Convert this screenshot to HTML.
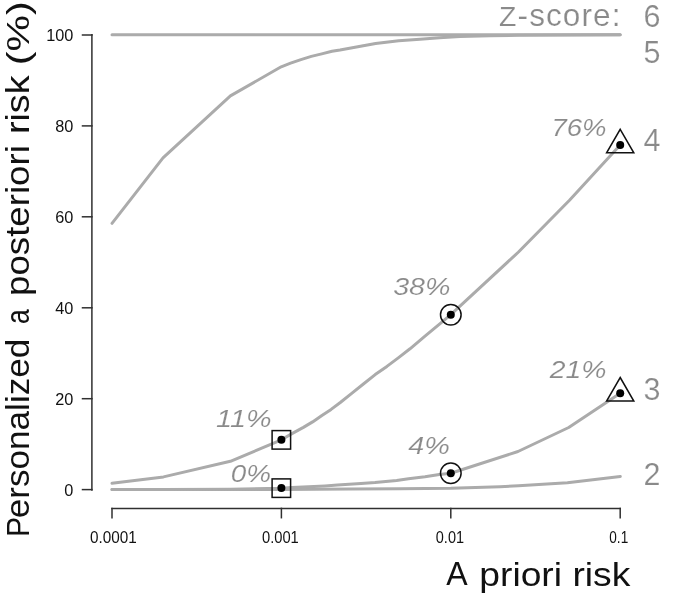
<!DOCTYPE html>
<html><head><meta charset="utf-8"><style>
html,body{margin:0;padding:0;background:#fff;width:675px;height:597px;overflow:hidden}
svg{display:block;will-change:transform}
text{font-family:"Liberation Sans",sans-serif}
</style></head><body>
<svg width="675" height="597" viewBox="0 0 675 597">
<rect width="675" height="597" fill="#fff"/>

<g fill="none" stroke="#ababab" stroke-width="3" stroke-linejoin="round" stroke-linecap="round">
<path d="M112.0,489.5 L281.4,489.4 L350.0,489.1 L400.0,488.8 L450.8,488.3 L500.0,486.7 L518.5,485.8 L567.4,482.7 L620.3,476.5"/>
<path d="M112.0,489.5 L163.0,489.5 L230.4,489.3 L281.4,488.2 L291.7,487.6 L325.0,485.9 L337.4,485.1 L361.0,483.5 L375.0,482.6 L396.6,480.4 L408.5,478.7 L425.0,476.8 L439.3,474.6 L450.8,473.2 L518.0,451.5 L568.7,427.5 L620.2,393.2"/>
<path d="M112.0,483.3 L163.5,476.9 L230.4,461.3 L281.4,439.8 L292.4,433.4 L303.4,427.4 L312.6,421.9 L321.9,415.4 L331.1,409.4 L340.3,402.5 L351.7,393.3 L363.4,384.0 L375.2,374.6 L386.9,366.4 L398.6,357.6 L410.0,348.8 L425.0,336.2 L440.4,323.4 L450.8,314.7 L518.5,252.0 L569.5,200.3 L620.2,145.0"/>
<path d="M112.0,223.3 L163.0,157.8 L230.4,95.9 L281.2,66.8 L290.6,63.2 L300.9,59.6 L311.3,56.4 L321.7,53.9 L332.0,51.3 L340.0,50.0 L357.8,46.7 L375.6,43.6 L398.7,40.8 L420.0,39.2 L439.6,37.8 L460.0,36.6 L490.0,35.8 L518.0,35.3 L569.0,34.9 L620.2,34.8"/>
<path d="M112.0,34.8 L620.2,34.8"/>
</g>
<g fill="none" stroke="#303030" stroke-width="1.5" stroke-linecap="square">
<path d="M91.9,34.8 V490"/>
<path d="M82.5,489.6 H91.9"/>
<path d="M82.5,398.7 H91.9"/>
<path d="M82.5,307.8 H91.9"/>
<path d="M82.5,216.8 H91.9"/>
<path d="M82.5,125.9 H91.9"/>
<path d="M82.5,35.0 H91.9"/>
<path d="M112,508.4 H620.2"/>
<path d="M112.0,508.4 V517.7"/>
<path d="M281.4,508.4 V517.7"/>
<path d="M450.8,508.4 V517.7"/>
<path d="M620.2,508.4 V517.7"/>
</g>
<g font-size="16.3" fill="#111" text-anchor="end">
<text x="73.3" y="495.9">0</text>
<text x="73.3" y="405.0">20</text>
<text x="73.3" y="314.1">40</text>
<text x="73.3" y="223.1">60</text>
<text x="73.3" y="132.2">80</text>
<text x="73.3" y="41.3">100</text>
</g>
<g font-size="16.3" fill="#111">
<text x="90.00" y="542.8" textLength="46.81" lengthAdjust="spacingAndGlyphs">0.0001</text>
<text x="262.00" y="542.8" textLength="36.81" lengthAdjust="spacingAndGlyphs">0.001</text>
<text x="435.80" y="542.8" textLength="28.22" lengthAdjust="spacingAndGlyphs">0.01</text>
<text x="609.30" y="542.8" textLength="18.89" lengthAdjust="spacingAndGlyphs">0.1</text>
</g>
<text x="446.3" y="585.4" font-size="32.8" fill="#111" textLength="21.4" lengthAdjust="spacingAndGlyphs">A</text>
<text x="479.3" y="585.5" font-size="32.6" fill="#111" textLength="151.00" lengthAdjust="spacingAndGlyphs">priori risk</text>
<text transform="translate(29.3,536.90) rotate(-90)" font-size="31.5" fill="#111" textLength="20.19" lengthAdjust="spacingAndGlyphs">P</text>
<text transform="translate(29.3,518.30) rotate(-90)" font-size="32.8" fill="#111" textLength="179.63" lengthAdjust="spacingAndGlyphs">ersonalized</text>
<text transform="translate(29.3,324.10) rotate(-90)" font-size="32.8" fill="#111" textLength="14.71" lengthAdjust="spacingAndGlyphs">a</text>
<text transform="translate(29.3,296.00) rotate(-90)" font-size="32.8" fill="#111" textLength="150.89" lengthAdjust="spacingAndGlyphs">posteriori</text>
<text transform="translate(29.3,134.10) rotate(-90)" font-size="32.8" fill="#111" textLength="58.65" lengthAdjust="spacingAndGlyphs">risk</text>
<text transform="translate(29.3,65.20) rotate(-90)" font-size="31" fill="#111" textLength="63.92" lengthAdjust="spacingAndGlyphs">(%)</text>
<g fill="none" stroke="#111" stroke-width="1.5">
<rect x="272.1" y="430.6" width="18.5" height="18.5"/>
<rect x="272.1" y="478.9" width="18.5" height="18.5"/>
<circle cx="450.8" cy="314.7" r="10.3"/>
<circle cx="450.8" cy="473.2" r="10.3"/>
<path d="M620.2,129.3 L633.8,152.8 L606.6,152.8 Z"/>
<path d="M620.2,377.5 L633.8,401.0 L606.6,401.0 Z"/>
</g>
<g fill="#000">
<circle cx="281.4" cy="439.8" r="4"/>
<circle cx="281.4" cy="488.1" r="4"/>
<circle cx="450.8" cy="314.7" r="4"/>
<circle cx="450.8" cy="473.2" r="4"/>
<circle cx="620.2" cy="145.0" r="4"/>
<circle cx="620.2" cy="393.2" r="4"/>
</g>
<g font-size="24.5" font-style="italic" fill="#8a8a8a" stroke="#fff" stroke-width="0.15">
<text x="551.5" y="136.4" textLength="55.0" lengthAdjust="spacingAndGlyphs">76%</text>
<text x="393.2" y="295.0" textLength="57.3" lengthAdjust="spacingAndGlyphs">38%</text>
<text x="216.1" y="427.0" textLength="55.4" lengthAdjust="spacingAndGlyphs">11%</text>
<text x="230.7" y="482.0" textLength="40.3" lengthAdjust="spacingAndGlyphs">0%</text>
<text x="408.3" y="453.8" textLength="41.7" lengthAdjust="spacingAndGlyphs">4%</text>
<text x="549.8" y="378.2" textLength="56.7" lengthAdjust="spacingAndGlyphs">21%</text>
</g>
<g font-size="31.5" fill="#8a8a8a" stroke="#fff" stroke-width="0.2">
<text x="499" y="26" textLength="121.5" lengthAdjust="spacing"><tspan font-size="28.5">Z</tspan>-score:</text>
<text x="643.5" y="26.7" font-size="30.5">6</text>
<text x="643.5" y="63.3" font-size="30.5">5</text>
<text x="643.5" y="150.6" font-size="30.5">4</text>
<text x="643.5" y="400.2" font-size="30.5">3</text>
<text x="643.5" y="485.0" font-size="30.5">2</text>
</g>
</svg>
</body></html>
